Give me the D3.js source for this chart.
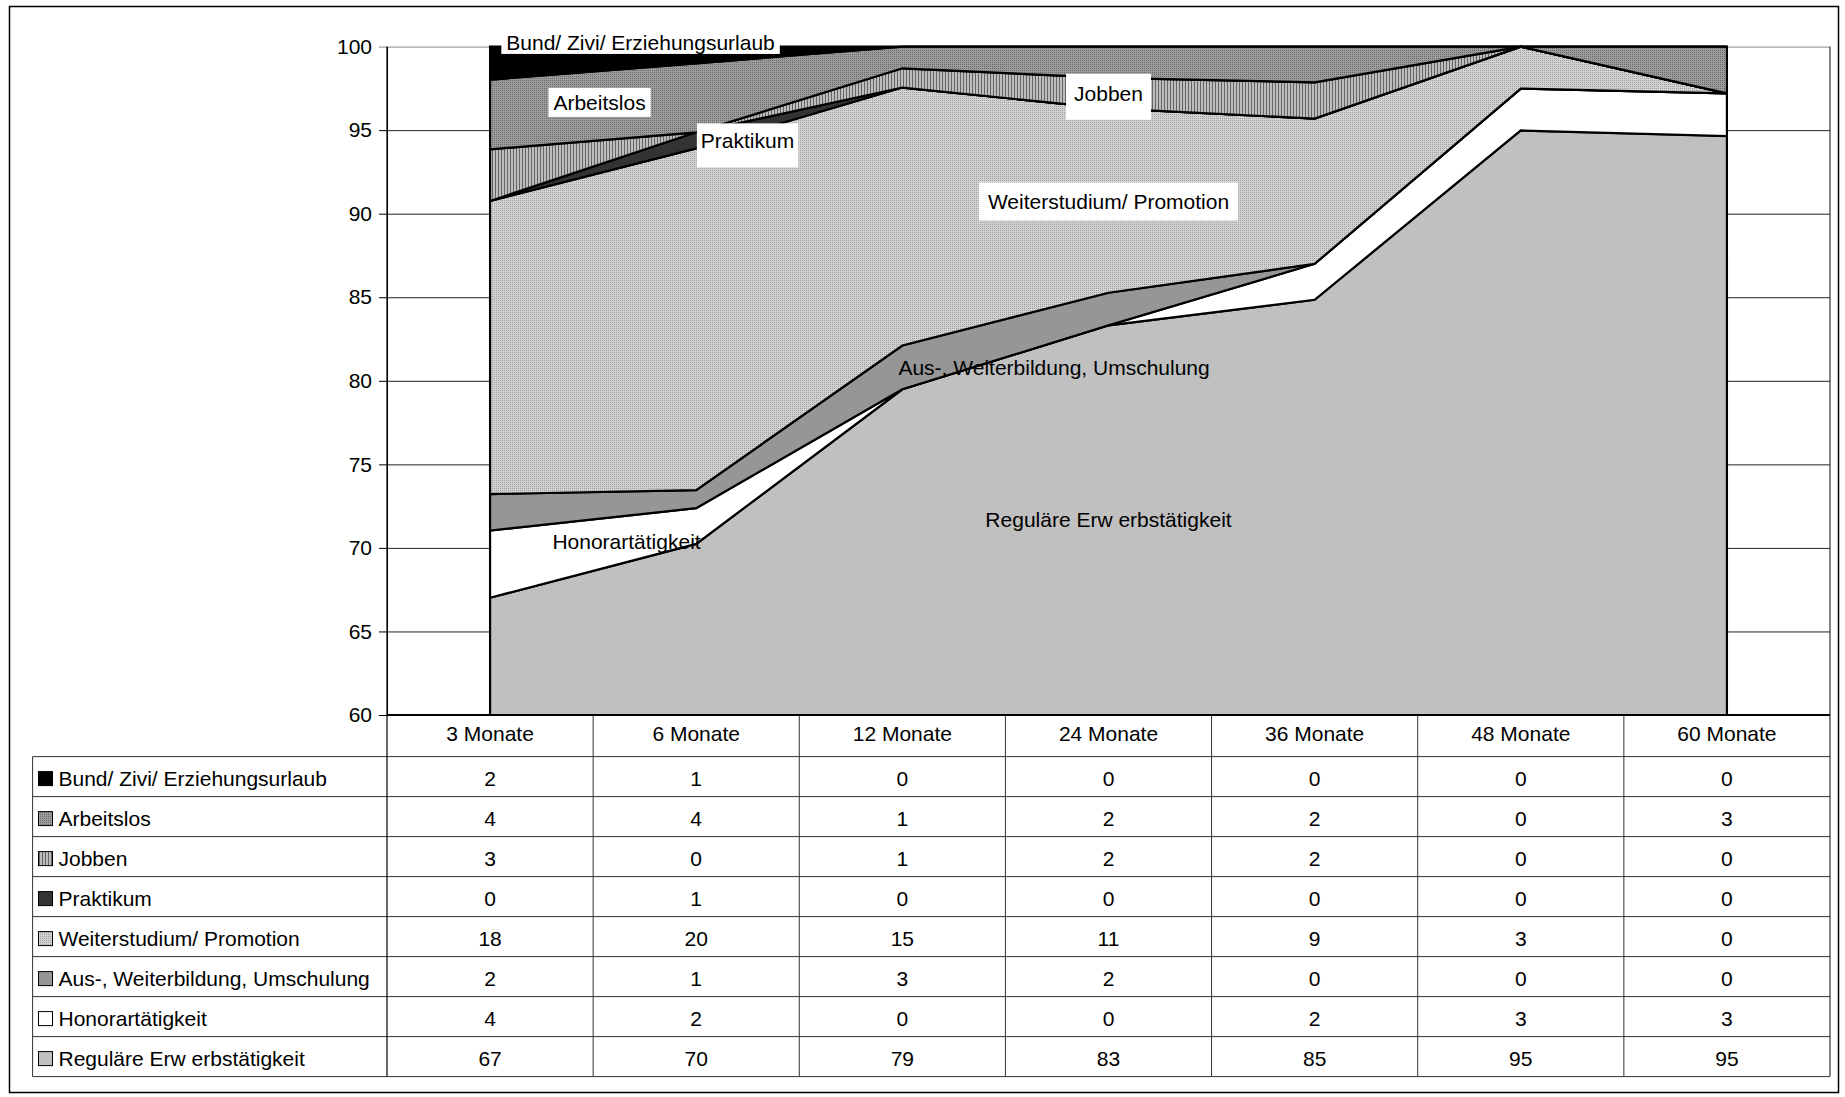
<!DOCTYPE html>
<html><head><meta charset="utf-8">
<script src="https://cdn.jsdelivr.net/npm/d3@7"></script>
<style>
body{margin:0;background:#fff}
svg text{font-family:"Liberation Sans",Arial,sans-serif;font-size:21px;fill:#000}
</style>
</head><body>
<svg id="c" width="1845" height="1097"></svg>
<script>
// ---------- data ----------
const categories = ["3 Monate","6 Monate","12 Monate","24 Monate","36 Monate","48 Monate","60 Monate"];
// series, bottom of the stack first
const seriesKeys   = ["reg","hon","aus","wei","pra","job","arb","bun"];
const seriesNames  = ["Reguläre Erw erbstätigkeit","Honorartätigkeit","Aus-, Weiterbildung, Umschulung",
                      "Weiterstudium/ Promotion","Praktikum","Jobben","Arbeitslos","Bund/ Zivi/ Erziehungsurlaub"];
const regulaer      = [67.02, 70.24, 79.49, 83.32, 84.85, 94.98, 94.65];
const honorar       = [ 4.02,  2.14,  0,     0,     2.15,  2.51,  2.55];
const ausbildung    = [ 2.18,  1.08,  2.62,  1.95,  0,     0,     0   ];
const weiterstudium = [17.54, 20.45, 15.44, 11.03,  8.69,  2.51,  0   ];
const praktikum     = [ 0,     0.96,  0,     0,     0,     0,     0   ];
const jobben        = [ 3.09,  0,     1.15,  1.83,  2.17,  0,     0   ];
const arbeitslos    = [ 4.17,  4.13,  1.30,  1.87,  2.14,  0,     2.80];
const bund          = [ 1.98,  1.00,  0,     0,     0,     0,     0   ];
const yTicks = [60,65,70,75,80,85,90,95,100];

const seriesValues = [regulaer,honorar,ausbildung,weiterstudium,praktikum,jobben,arbeitslos,bund];

// ---------- layout ----------
const plot = {left:387, right:1830, top:46.6, bottom:715};
const table = {left:32.6, headTop:715, rowTop:756.6, rowH:40};
const fills = {reg:"#c0c0c0", hon:"#ffffff", aus:"#969696", wei:"url(#pWei)", pra:"#333333",
               job:"url(#pJob)", arb:"url(#pArb)", bun:"#000000"};
// in-chart labels: series key, fractional category index, value at baseline, box?, padX, box top/bottom offsets
const labelLayout = [
  {k:"bun", i:0.73, v:99.80, box:true, px:5, bt:22, bb:4},
  {k:"arb", i:0.531, v:96.21, box:true, px:5, bt:22, bb:7},
  {k:"pra", i:1.249, v:93.91, box:true, px:4, bt:25, bb:19},
  {k:"job", i:3.0, v:96.76, box:true, px:8, bt:27, bb:19},
  {k:"wei", i:3.0, v:90.31, box:true, px:9, bt:26, bb:12},
  {k:"aus", i:2.736, v:80.32, box:false},
  {k:"reg", i:3.0, v:71.28, box:false},
  {k:"hon", i:0.662, v:69.93, box:false}
];

const svg = d3.select("#c");
const defs = svg.append("defs");
function pattern(id,w,h,bg,dots){
  const p = defs.append("pattern").attr("id",id).attr("width",w).attr("height",h).attr("patternUnits","userSpaceOnUse");
  p.append("rect").attr("width",w).attr("height",h).attr("fill",bg);
  dots.forEach(d=>p.append("rect").attr("x",d[0]).attr("y",d[1]).attr("width",d[2]).attr("height",d[3]).attr("fill",d[4]));
}
pattern("pArb",2,2,"#9c9c9c",[[0,0,1,1,"#6a6a6a"]]);
pattern("pWei",2,2,"#d2d2d2",[[0,0,1,1,"#a0a0a0"]]);
pattern("pJob",3,3,"#bdbdbd",[[0,0,1,3,"#646464"]]);
defs.append("clipPath").attr("id","plotClip").append("rect")
  .attr("x",plot.left).attr("y",plot.top-2).attr("width",plot.right-plot.left).attr("height",plot.bottom-plot.top+2);

const x = d3.scaleBand().domain(categories).range([plot.left,plot.right]);
const bw = x.bandwidth();
const cx = c => x(c)+bw/2;
const xi = i => plot.left + bw*(i+0.5);
const y = d3.scaleLinear().domain([60,100]).range([plot.bottom,plot.top]);

// outer frame
svg.append("rect").attr("x",9.5).attr("y",6.5).attr("width",1829).attr("height",1086)
  .attr("fill","none").attr("stroke","#000").attr("stroke-width",1.5);

// gridlines
svg.append("g").attr("transform",`translate(${plot.left},0)`)
  .call(d3.axisLeft(y).tickValues(yTicks).tickSize(-(plot.right-plot.left)).tickFormat(""))
  .call(g=>g.select(".domain").remove())
  .call(g=>g.selectAll("line").attr("stroke",d=>d===100?"#8a8a8a":"#222").attr("stroke-width",1));

// stacked areas
const rows = categories.map((c,j)=>{const o={cat:c}; seriesKeys.forEach((k,s)=>o[k]=seriesValues[s][j]); return o;});
const stack = d3.stack().keys(seriesKeys)(rows);
const area = d3.area().x(d=>cx(d.data.cat)).y0(d=>y(d[0])).y1(d=>y(d[1]));
svg.append("g").attr("clip-path","url(#plotClip)")
  .selectAll("path").data(stack).join("path")
  .attr("d",area).attr("fill",d=>fills[d.key])
  .attr("stroke","#000").attr("stroke-width",2.2).attr("stroke-linejoin","miter");

// y axis
svg.append("g").attr("transform",`translate(${plot.left},0)`)
  .call(d3.axisLeft(y).tickValues(yTicks).tickSize(8).tickSizeOuter(0).tickPadding(7))
  .call(g=>g.select(".domain").attr("stroke","#000"))
  .call(g=>g.selectAll("line").attr("stroke",d=>d===100?"#8a8a8a":"#000"))
  .call(g=>g.selectAll("text").attr("font-size",21).attr("font-family",'"Liberation Sans",Arial,sans-serif').attr("fill","#000"));

// in-chart labels
const nameOf = k => seriesNames[seriesKeys.indexOf(k)];
const lg = svg.append("g");
labelLayout.forEach(L=>{
  const gx = xi(L.i), gy = y(L.v);
  const t = lg.append("text").attr("x",gx).attr("y",gy).attr("text-anchor","middle").text(nameOf(L.k));
  if(L.box){
    const b = t.node().getBBox();
    lg.insert("rect","text").attr("x",b.x-L.px).attr("y",gy-L.bt).attr("width",b.width+2*L.px)
      .attr("height",L.bt+L.bb).attr("fill","#fff");
  }
});
lg.selectAll("text").raise();

// ---------- data table ----------
const tg = svg.append("g");
const nRows = seriesKeys.length;
const tBottom = table.rowTop + nRows*table.rowH;
const lineC = "#333";
d3.range(nRows+1).forEach(r=>{
  tg.append("line").attr("x1",table.left).attr("x2",plot.right)
    .attr("y1",table.rowTop+r*table.rowH).attr("y2",table.rowTop+r*table.rowH)
    .attr("stroke",lineC).attr("stroke-width",1);
});
tg.append("line").attr("x1",table.left).attr("x2",table.left).attr("y1",table.rowTop).attr("y2",tBottom).attr("stroke",lineC);
categories.forEach((c,j)=>{
  if(j>0) tg.append("line").attr("x1",x(c)).attr("x2",x(c)).attr("y1",table.headTop).attr("y2",tBottom).attr("stroke",lineC);
});
tg.append("line").attr("x1",plot.left).attr("x2",plot.left).attr("y1",plot.top).attr("y2",tBottom).attr("stroke","#000").attr("stroke-width",1.2);
tg.append("line").attr("x1",plot.right).attr("x2",plot.right).attr("y1",plot.top).attr("y2",tBottom).attr("stroke",lineC).attr("stroke-width",1.2);
tg.append("line").attr("x1",plot.left).attr("x2",plot.right).attr("y1",plot.bottom).attr("y2",plot.bottom).attr("stroke","#000").attr("stroke-width",2);
// header
tg.selectAll("text.h").data(categories).join("text").attr("class","h")
  .attr("x",d=>cx(d)).attr("y",(table.headTop+table.rowTop)/2-2.5).attr("dy","0.35em").attr("text-anchor","middle").text(d=>d);
// rows, top series first
const tableOrder = seriesKeys.slice().reverse();
tableOrder.forEach((k,r)=>{
  const mid = table.rowTop + r*table.rowH + table.rowH/2 + 2;
  const s = seriesKeys.indexOf(k);
  tg.append("rect").attr("x",38.5).attr("y",mid-7).attr("width",14).attr("height",14)
    .attr("fill",fills[k]).attr("stroke","#000").attr("stroke-width",1);
  tg.append("text").attr("x",58.5).attr("y",mid).attr("dy","0.35em").attr("font-size",21.4).text(seriesNames[s]);
  categories.forEach((c,j)=>{
    tg.append("text").attr("x",cx(c)).attr("y",mid).attr("dy","0.35em").attr("text-anchor","middle")
      .text(Math.round(seriesValues[s][j]));
  });
});
</script>
</body></html>
